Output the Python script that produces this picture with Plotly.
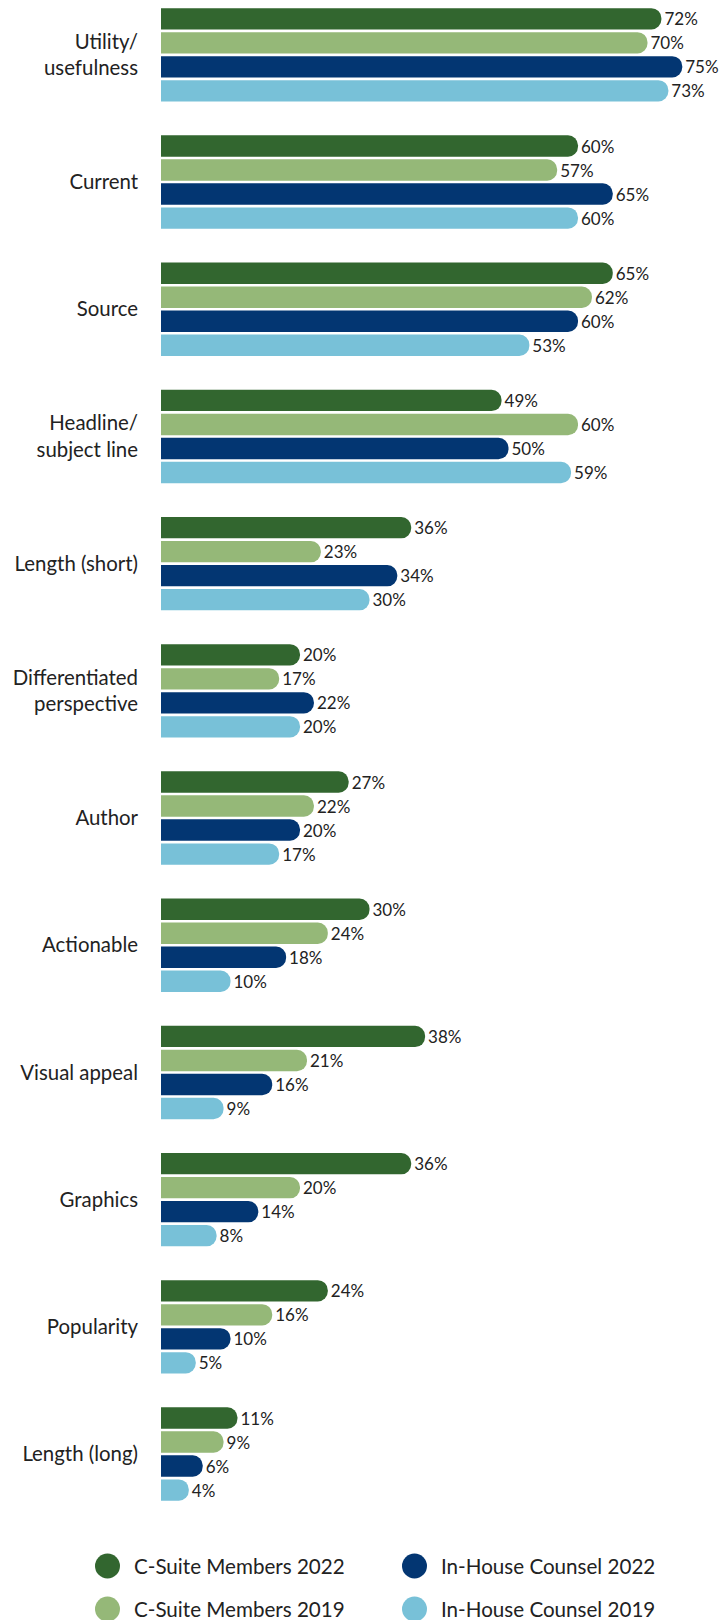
import plotly.graph_objects as go

categories = [
    "Utility/<br>usefulness", "Current", "Source", "Headline/<br>subject line",
    "Length (short)", "Differentiated<br>perspective", "Author", "Actionable",
    "Visual appeal", "Graphics", "Popularity", "Length (long)",
]
series_names = ["C-Suite Members 2022", "C-Suite Members 2019",
                "In-House Counsel 2022", "In-House Counsel 2019"]
csuite_2022 = [72, 60, 65, 49, 36, 20, 27, 30, 38, 36, 24, 11]
csuite_2019 = [70, 57, 62, 60, 23, 17, 22, 24, 21, 20, 16, 9]
inhouse_2022 = [75, 65, 60, 50, 34, 22, 20, 18, 16, 14, 10, 6]
inhouse_2019 = [73, 60, 53, 59, 30, 20, 17, 10, 9, 8, 5, 4]
series_values = [csuite_2022, csuite_2019, inhouse_2022, inhouse_2019]
colors = ["#32662F", "#95B878", "#033672", "#78C1D8"]
legend_order = [0, 2, 1, 3]  # row-major: CS2022, IH2022 / CS2019, IH2019

W, H = 720, 1620
x0_px = 161
px_per_pct = 6.95
plot_bottom = 1535
cat_pitch = 127.2
first_center = 54.85
FONT = "Lato"
TXT = "#222222"

fig = go.Figure()
for name, vals, col in zip(series_names, series_values, colors):
    fig.add_trace(go.Bar(
        y=categories, x=vals, orientation="h", name=name,
        marker=dict(color=col, line=dict(width=0)),
        text=[f"{v}%" for v in vals], textposition="outside",
        textfont=dict(family=FONT, size=17, color=TXT),
        cliponaxis=False, constraintext="none", showlegend=False,
        hoverinfo="skip",
    ))

# custom legend (circles + labels) on an auxiliary pixel-scaled axis
leg_x = [107.5, 414.5]
leg_y = [1566, 1609]
lx, ly, lc = [], [], []
for k, idx in enumerate(legend_order):
    cx = leg_x[k % 2]
    cy = leg_y[k // 2]
    lx.append(cx)
    ly.append(cy)
    lc.append(colors[idx])
    fig.add_annotation(x=cx + 24, y=cy, xref="x2", yref="y2", text=series_names[idx],
                       showarrow=False, xanchor="left", yanchor="middle",
                       font=dict(family=FONT, size=20.6, color=TXT))
fig.add_trace(go.Scatter(x=lx, y=ly, mode="markers", xaxis="x2", yaxis="y2",
                         marker=dict(size=25, color=lc, line=dict(width=0)),
                         showlegend=False, hoverinfo="skip", cliponaxis=False))

top_idx = -first_center / cat_pitch
bot_idx = top_idx + plot_bottom / cat_pitch
fig.update_layout(
    width=W, height=H,
    margin=dict(l=0, r=0, t=0, b=0),
    paper_bgcolor="white", plot_bgcolor="white",
    barmode="group", bargap=0.245, bargroupgap=0.11, barcornerradius=10,
    font=dict(family=FONT, color=TXT),
    xaxis=dict(domain=[x0_px / W, 1], range=[0, (W - x0_px) / px_per_pct],
               showgrid=False, zeroline=False, showticklabels=False,
               showline=False, fixedrange=True),
    yaxis=dict(domain=[(H - plot_bottom) / H, 1], type="category",
               categoryarray=categories, range=[bot_idx, top_idx],
               showgrid=False, zeroline=False, showline=False, ticks="",
               ticklabelstandoff=22, automargin=False,
               tickfont=dict(family=FONT, size=20.4, color=TXT)),
    xaxis2=dict(domain=[0, 1], range=[0, W], visible=False, fixedrange=True),
    yaxis2=dict(domain=[0, (H - plot_bottom) / H], range=[H, plot_bottom],
                visible=False, fixedrange=True),
    showlegend=False,
)
fig.write_html("out.html")
